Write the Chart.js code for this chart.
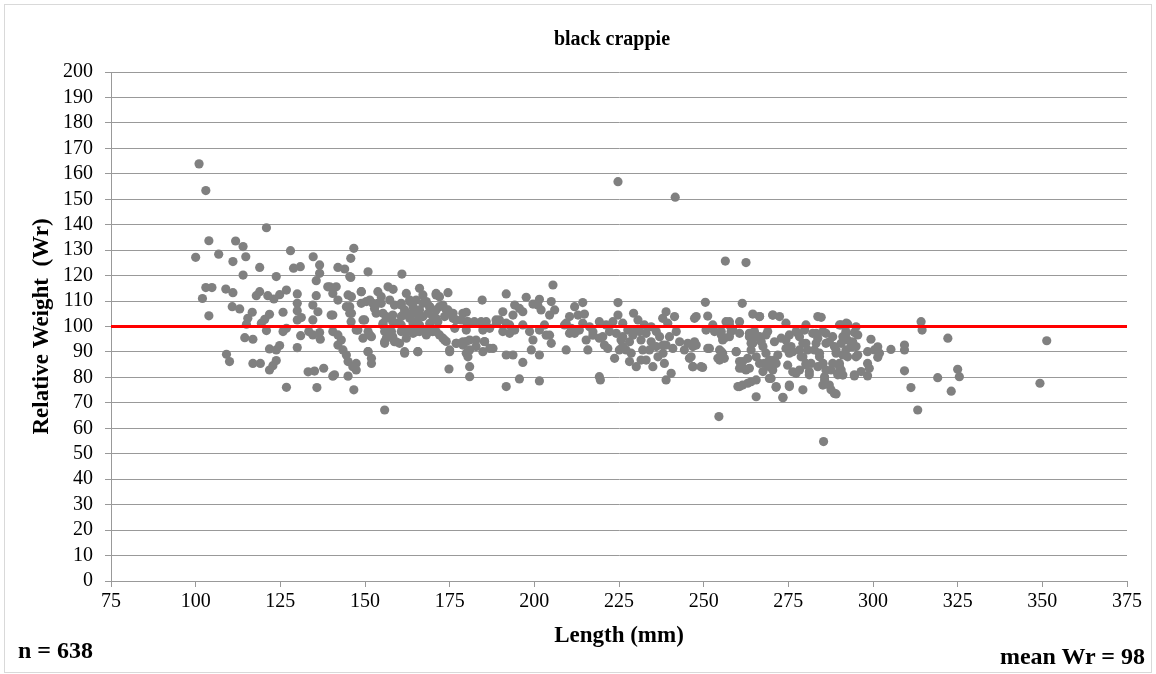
<!DOCTYPE html>
<html>
<head>
<meta charset="utf-8">
<script src="https://cdn.jsdelivr.net/npm/chart.js@4/dist/chart.umd.min.js"></script>
<style>
  body { margin: 0; background: #fff; }
  #wrap { position: relative; width: 1156px; height: 674px; }
  .lbl { position: absolute; font-family: "Liberation Serif", "Times New Roman", serif; font-weight: bold; color: #000; white-space: nowrap; }
</style>
</head>
<body>
<div id="wrap">
  <canvas id="wrChart" width="1156" height="674"></canvas>
  <div class="lbl" style="left:612px; top:38px; transform:translate(-50%,-50%); font-size:20px;">black crappie</div>
  <div class="lbl" style="left:18px; top:650px; transform:translateY(-50%); font-size:24px;">n = 638</div>
  <div class="lbl" style="right:11px; top:656px; transform:translateY(-50%); font-size:24px;">mean Wr = 98</div>
</div>
<script>
// Longitud (mm) y peso relativo (Wr)
const lengthMm = [
  101.0,103.0,120.9,103.9,111.8,114.0,100.0,106.8,111.0,114.8,128.0,134.7,118.9,114.0,123.8,128.9,130.9,136.6,136.6,135.6,
  139.0,103.0,104.8,102.0,108.9,111.0,118.9,121.3,123.1,124.8,126.8,117.9,130.0,130.0,130.0,135.6,134.6,136.1,110.8,113.0,
  103.9,116.7,115.4,115.0,121.8,120.4,119.4,125.8,131.2,130.0,134.6,120.9,125.8,126.8,131.0,133.4,134.6,136.6,136.8,114.5,
  116.9,121.8,123.8,124.8,130.0,109.1,110.0,116.9,119.1,123.8,122.8,121.8,133.2,135.1,137.8,126.8,135.8,
  146.7,145.8,145.8,142.0,144.0,150.9,160.9,139.6,141.5,140.5,142.0,145.0,146.0,148.9,140.0,145.5,146.0,148.9,151.4,153.8,
  156.8,158.3,154.8,153.8,149.9,152.8,155.3,156.3,155.3,162.2,163.2,160.7,161.7,160.7,159.7,164.2,165.1,166.1,163.2,164.7,
  166.1,167.1,168.1,169.1,167.1,171.0,172.0,174.5,173.0,174.5,175.5,171.0,170.0,171.5,176.0,179.9,184.6,178.4,180.4,181.9,
  184.3,185.8,189.2,140.5,142.0,143.0,142.0,143.5,144.5,145.0,146.4,147.4,140.5,145.0,146.7,147.9,150.9,151.9,150.9,151.9,
  151.9,155.8,156.3,155.8,157.8,158.7,160.2,161.7,162.2,163.2,165.1,167.1,169.1,165.6,155.8,171.0,173.0,174.0,175.0,174.8,
  177.0,178.9,179.9,180.9,180.4,180.9,180.9,182.8,185.3,184.8,187.8,176.5,179.9,184.8,186.8,
  224.7,205.5,191.7,197.6,201.5,201.0,202.0,205.0,206.0,204.5,190.7,189.7,191.7,194.2,195.6,196.6,193.7,199.6,211.9,214.3,
  210.4,212.9,214.8,209.4,210.9,211.9,224.7,224.7,223.2,221.2,219.2,216.3,217.3,229.3,230.6,232.5,234.5,238.9,237.9,239.4,
  192.7,190.7,198.6,199.6,199.1,201.5,204.5,205.0,191.7,193.7,196.6,201.5,195.6,191.7,201.5,209.4,215.3,215.8,217.3,219.2,
  220.7,221.7,219.2,219.5,223.7,224.2,225.6,226.1,225.1,228.1,228.6,230.1,228.1,231.5,232.0,233.0,235.0,234.5,236.5,238.0,
  238.4,238.9,230.1,229.1,
  241.6,256.4,262.5,250.5,261.4,241.4,247.3,251.2,257.6,260.6,264.5,266.5,270.4,272.4,274.3,280.2,283.7,284.7,290.1,241.9,
  239.9,238.9,240.9,242.9,244.3,245.8,246.8,249.2,245.3,247.8,240.4,250.7,252.7,251.2,254.7,254.2,255.6,255.2,256.1,258.1,
  254.5,259.6,260.6,261.5,263.5,263.0,260.6,263.0,265.5,265.5,263.5,264.0,265.0,266.5,267.5,268.4,267.9,269.4,270.4,269.4,
  271.4,268.9,270.9,271.9,271.4,273.4,274.3,275.8,275.3,274.8,276.3,277.3,275.3,279.3,277.3,278.3,278.3,279.3,280.2,281.2,
  279.8,280.2,280.7,281.7,283.2,283.2,284.2,283.7,285.2,285.7,285.4,285.2,287.6,288.6,286.1,287.1,288.6,289.1,288.1,289.6,
  287.6,
  314.2,314.5,322.1,325.0,325.5,319.1,323.1,311.2,313.2,309.3,309.3,309.3,305.3,301.4,301.9,301.4,300.4,299.4,298.4,298.4,
  298.9,298.4,296.5,294.5,295.5,294.5,295.5,294.0,293.5,295.0,292.5,290.6,292.0,291.1,292.5,290.6,292.0,291.1,292.5,290.1,
  290.6,289.6,289.1,351.3,349.3,
  // nucleo denso 150-190 mm
  150.4,152.3,154.8,157.3,158.7,160.7,163.2,165.1,167.1,169.1,
  172.0,174.0,176.0,153.3,156.3,158.2,161.2,163.7,166.1,168.6,
  171.0,173.5,155.3,158.2,160.7,164.2,166.1,169.1,176.9,178.9,
  179.9,182.3,188.7,156.3,158.2,155.8,160.7,162.2,164.2,166.1,
  168.1,170.0,172.0,161.7,165.6,159.2,151.4,149.4,173.5,175.0,
  176.9,178.9,180.9,182.8,185.3,186.8,179.9,171.0,145.5,148.9,
  144.5,145.5,140.5,149.4,147.4,145.9,147.4,150.9,141.0,
  // nucleo denso 245-295 mm
  247.8,252.7,256.6,257.6,266.5,270.4,292.1,295.0,247.3,246.8,
  246.3,246.8,249.7,251.7,255.2,254.7,256.1,253.2,255.2,255.6,
  257.6,258.6,260.6,259.6,263.5,265.5,264.5,267.0,268.4,264.0,
  265.5,266.5,267.5,269.4,270.9,269.9,260.6,262.5,261.5,260.1,
  261.5,264.0,271.4,273.4,275.3,272.9,275.3,274.3,276.3,277.8,
  279.3,278.8,280.2,278.3,281.2,282.2,283.7,282.7,284.2,285.2,
  286.1,285.7,287.1,285.2,286.1,288.1,289.1,290.1,291.1,292.1,
  294.0,295.0,294.5,
  // nucleo denso 188-238 mm
  226.1,227.6,231.1,233.0,236.0,237.0,234.0,236.0,231.5,227.1,
  238.0,226.1,222.2,220.2,213.3,214.3,210.4,208.9,203.0,203.5,
  196.6,194.2,192.7,188.8
];
const relWeight = [
  163.9,153.4,138.8,133.7,133.6,131.4,127.2,128.4,125.5,127.4,129.8,127.4,123.2,120.2,119.6,122.9,123.5,124.2,120.9,118.0,
  115.6,115.3,115.3,111.0,114.7,113.3,113.7,112.1,110.8,112.5,114.3,112.1,112.8,109.1,106.2,112.1,108.4,105.8,107.8,106.9,
  104.2,105.6,103.2,100.9,104.8,102.8,101.3,105.6,103.5,102.6,102.6,98.4,98.0,99.3,96.4,98.0,96.7,97.6,95.0,95.6,
  95.0,91.2,90.8,92.5,91.7,89.1,86.2,85.5,85.5,86.6,84.6,82.9,82.2,82.5,83.6,76.1,76.0,
  130.7,126.8,119.3,123.2,122.6,121.5,120.6,115.6,115.6,113.0,110.4,112.4,111.7,113.7,104.5,107.8,105.2,109.1,110.4,113.7,
  115.6,114.6,111.7,109.1,102.6,107.1,105.2,103.2,100.6,113.0,110.4,108.4,106.5,103.9,101.3,107.8,105.2,106.5,103.2,101.9,
  115.0,112.4,109.8,107.8,103.9,113.0,111.7,113.3,108.4,106.5,105.2,106.5,103.9,101.9,103.2,105.6,110.4,102.6,101.9,101.3,
  101.9,101.9,102.2,98.0,96.7,94.7,92.7,90.8,88.8,86.2,84.2,82.9,80.5,80.5,75.1,98.6,98.0,96.0,90.1,87.5,
  85.5,98.0,95.4,93.4,98.0,94.0,93.4,90.1,98.0,98.6,98.0,98.6,98.0,90.1,67.2,98.0,95.4,94.1,90.1,83.3,
  93.4,92.7,94.1,90.8,88.1,84.2,80.3,94.7,94.1,90.1,91.4,99.3,98.6,98.6,99.3,
  156.9,116.3,112.8,111.5,110.7,108.4,106.5,109.8,106.5,104.5,105.8,102.6,101.3,108.4,107.1,105.8,104.5,108.8,107.8,109.4,
  103.9,104.5,104.9,101.3,99.3,97.3,109.4,104.5,101.9,100.6,101.9,99.9,97.9,105.2,102.6,100.6,99.9,105.8,103.2,101.3,
  97.3,98.0,98.0,94.7,90.8,98.6,96.6,93.4,88.8,88.8,85.9,88.8,79.4,76.4,78.6,90.8,94.7,90.8,96.6,95.4,
  92.7,91.4,80.3,79.0,87.5,97.3,94.7,92.1,90.8,94.0,89.5,84.2,86.2,94.7,90.8,86.8,84.2,94.0,88.1,92.7,
  85.5,79.0,98.6,96.6,
  150.8,125.7,125.1,109.5,109.1,103.9,103.2,104.1,101.9,101.9,104.9,103.9,104.5,103.9,101.3,100.6,103.9,103.6,100.6,98.0,
  96.0,92.7,91.4,94.0,90.8,87.5,84.2,84.2,93.4,92.7,81.6,98.6,99.9,91.4,90.8,87.5,89.5,98.0,95.4,98.0,
  64.6,90.1,86.2,83.6,83.6,87.5,76.4,77.7,79.0,72.4,96.0,93.4,98.0,96.0,92.1,89.5,85.5,86.8,82.9,79.6,
  76.1,98.0,94.0,88.8,85.5,72.0,94.7,92.1,89.5,84.8,82.2,81.6,76.4,75.1,98.0,96.0,90.8,88.1,85.5,82.2,
  98.6,93.4,90.8,85.5,97.3,93.4,89.5,84.2,85.5,80.3,54.8,77.0,75.1,73.7,97.3,94.0,92.1,89.5,85.5,81.6,
  82.9,
  101.9,98.6,95.4,83.2,80.3,79.9,74.6,76.0,67.2,92.7,90.8,82.6,91.0,92.0,89.5,87.9,90.8,95.0,90.1,85.5,
  83.6,80.6,82.3,80.6,88.8,97.6,96.7,94.0,92.1,92.1,101.0,100.6,98.0,96.0,94.7,93.4,90.8,88.8,88.1,85.5,
  82.9,81.0,73.5,94.4,77.7,
  // nucleo denso 150-190 mm
  109.8,109.1,109.1,110.4,108.4,109.1,109.8,110.4,109.1,107.8,
  107.8,106.5,105.2,105.2,103.9,104.5,104.5,105.2,103.9,105.2,
  103.2,103.9,101.2,101.9,100.6,101.2,100.6,101.2,102.6,105.2,
  101.9,101.9,102.6,98.0,96.0,94.0,98.0,95.4,97.3,98.0,
  96.7,98.0,96.7,89.5,90.1,94.0,96.7,95.4,94.7,90.8,
  93.4,94.0,94.7,92.1,94.0,91.4,89.5,112.4,119.6,113.7,
  107.8,105.2,104.5,102.6,98.6,101.9,85.5,90.1,81.0,
  // nucleo denso 245-295 mm
  103.9,100.6,101.9,100.6,103.9,104.5,101.3,99.9,94.0,92.1,
  88.1,84.2,83.9,91.4,90.1,86.8,87.5,98.0,96.7,94.7,
  96.0,98.6,97.3,90.1,97.3,96.0,93.4,94.0,96.7,90.8,
  88.1,85.5,82.3,84.2,86.8,79.6,83.6,82.9,86.2,76.4,
  77.0,78.3,76.4,72.2,77.0,95.4,96.7,91.4,90.1,97.3,
  93.4,88.1,84.9,82.9,81.0,97.3,95.4,90.8,88.1,85.5,
  82.9,79.0,77.0,98.0,93.4,96.0,90.8,84.2,80.9,97.3,
  92.1,88.1,81.0,
  // nucleo denso 188-238 mm
  101.3,98.6,98.0,97.3,98.0,96.0,90.8,92.1,86.8,90.8,
  89.5,96.0,98.0,96.0,98.6,101.3,97.3,100.6,100.6,96.6,
  100.6,98.6,100.6,101.3
];
// Linea de referencia Wr = 100
const refWr = [100];
const xTicks = [75, 100, 125, 150, 175, 200, 225, 250, 275, 300, 325, 350, 375];
const yRange = [0, 200, 10]; // min, max, paso

const puntos = lengthMm.map((x, i) => ({ x: x, y: relWeight[i] }));
const linea = [{ x: xTicks[0], y: refWr[0] }, { x: xTicks[xTicks.length - 1], y: refWr[0] }];

const serif = '"Liberation Serif", "Times New Roman", serif';

// Marco gris alrededor de la figura
const marco = {
  id: 'marco',
  beforeDraw(chart) {
    const c = chart.ctx;
    c.save();
    c.fillStyle = '#fff';
    c.fillRect(0, 0, chart.width, chart.height);
    c.strokeStyle = '#d9d9d9';
    c.lineWidth = 1;
    c.strokeRect(4.5, 4.5, 1147, 668);
    c.restore();
  }
};

const ctx = document.getElementById('wrChart').getContext('2d');
new Chart(ctx, {
  type: 'scatter',
  data: {
    datasets: [
      {
        type: 'line',
        data: linea,
        borderColor: '#ff0000',
        borderWidth: 3,
        pointRadius: 0,
        fill: false,
        order: 0
      },
      {
        data: puntos,
        backgroundColor: '#808080',
        borderWidth: 0,
        pointRadius: 4.6,
        order: 1
      }
    ]
  },
  options: {
    responsive: false,
    animation: false,
    layout: { padding: { left: 0, right: 29, top: 72, bottom: 0 } },
    plugins: {
      legend: { display: false },
      tooltip: { enabled: false }
    },
    scales: {
      x: {
        type: 'linear',
        min: xTicks[0],
        max: xTicks[xTicks.length - 1],
        afterBuildTicks: s => { s.ticks = xTicks.map(v => ({ value: v })); },
        afterFit: s => { s.height = 93; },
        ticks: { font: { family: serif, size: 20 }, color: '#000', padding: 3, maxRotation: 0, autoSkip: false },
        grid: { drawOnChartArea: false, drawTicks: true, tickLength: 6, color: '#999' },
        border: { color: '#999' },
        title: { display: true, text: 'Length (mm)', color: '#000', font: { family: serif, size: 23, weight: 'bold' }, padding: { top: 0, bottom: 24 } }
      },
      y: {
        min: yRange[0],
        max: yRange[1],
        afterFit: s => { s.width = 111; },
        ticks: { stepSize: yRange[2], autoSkip: false, font: { family: serif, size: 20 }, color: '#000', padding: 12 },
        grid: { color: '#999', tickLength: 6 },
        border: { color: '#999' },
        title: { display: true, text: 'Relative Weight  (Wr)', color: '#000', font: { family: serif, size: 23, weight: 'bold' }, padding: { top: 28, bottom: 0 } }
      }
    }
  },
  plugins: [marco]
});
</script>
</body>
</html>
